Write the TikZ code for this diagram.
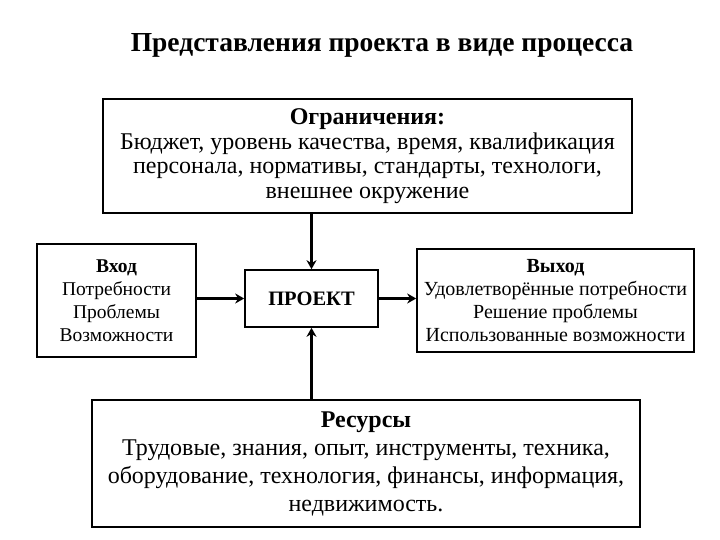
\documentclass[tikz,border=0pt]{standalone}
\usepackage{fontspec}
\setmainfont{Liberation Serif}
\usetikzlibrary{positioning,arrows.meta}
\tikzset{
  blk/.style={draw, line width=1.6pt, align=center, inner sep=0pt},
  flow/.style={-{Stealth[length=9pt,width=10pt]}, line width=3pt}
}
\begin{document}
\begin{tikzpicture}[x=1pt,y=-1pt]
\useasboundingbox (0,0) rectangle (720,540);
% title
\node[font=\fontsize{27.5}{30}\selectfont\bfseries] (title) at (382,45) {Представления проекта в виде процесса};
% boxes
\node[blk, minimum width=529pt, minimum height=114pt, font=\fontsize{24}{24.5}\selectfont] (limits) at (367.5,156)
  {\textbf{Ограничения:}\\Бюджет, уровень качества, время, квалификация\\персонала, нормативы, стандарты, технологи,\\внешнее окружение};
\node[blk, minimum width=159pt, minimum height=113pt, font=\fontsize{19.5}{23}\selectfont] (input) at (116.5,300.5)
  {\textbf{Вход}\\Потребности\\Проблемы\\Возможности};
\node[blk, minimum width=133pt, minimum height=57pt, font=\fontsize{20.5}{22}\selectfont] (project) at (311.5,298.5)
  {\textbf{ПРОЕКТ}};
\node[blk, minimum width=277pt, minimum height=103pt, font=\fontsize{20}{23}\selectfont] (output) at (555.5,300.5)
  {\textbf{Выход}\\Удовлетворённые потребности\\Решение проблемы\\Использованные возможности};
\node[blk, minimum width=548pt, minimum height=127pt, font=\fontsize{24}{28}\selectfont] (res) at (366,463.5)
  {\textbf{Ресурсы}\\Трудовые, знания, опыт, инструменты, техника,\\оборудование, технология, финансы, информация,\\недвижимость.};
% arrows
\draw[flow] (limits.south -| project.north) -- (project.north);
\draw[flow] (res.north -| project.south) -- (project.south);
\draw[flow] (input.east |- project.west) -- (project.west);
\draw[flow] (project.east) -- (output.west |- project.east);
\end{tikzpicture}
\end{document}
